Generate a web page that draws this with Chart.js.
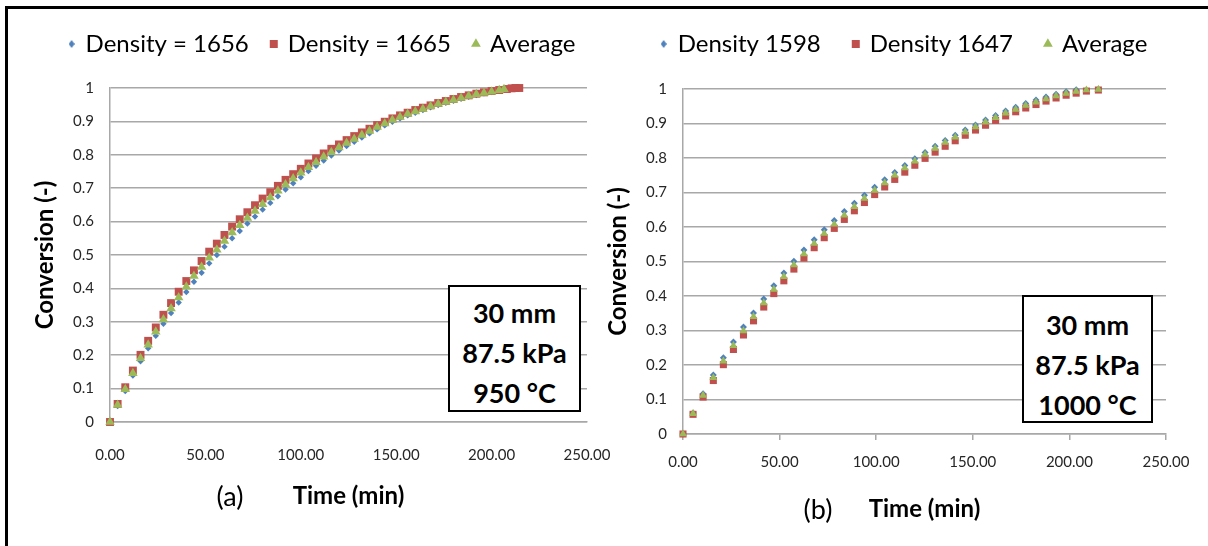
<!DOCTYPE html>
<html>
<head>
<meta charset="utf-8">
<script src="https://cdn.jsdelivr.net/npm/chart.js@4.4.1/dist/chart.umd.min.js"></script>
<style>
  html, body { margin: 0; padding: 0; background: #fff; }
  #page { position: relative; width: 1208px; height: 546px; overflow: hidden; background: #fff; font-family: Lato, sans-serif; color: #000; }
  #frame { position: absolute; left: 5px; top: 6px; width: 1300px; height: 700px; border-top: 3px solid #000; border-left: 3px solid #000; }
  canvas { position: absolute; left: 0; top: 0; }
  .cond { position: absolute; box-sizing: border-box; border: 2px solid #000; background: #fff; text-align: center;
          font-weight: 700; font-size: 27px; line-height: 40px; }
  .tag { position: absolute; font-size: 27px; transform: translate(-50%, -50%); white-space: nowrap; }
</style>
</head>
<body>
<div id="page">
  <div id="frame"></div>
  <canvas id="chartA" width="1208" height="546"></canvas>
  <canvas id="chartB" width="1208" height="546"></canvas>
  <div class="cond" style="left:448px; top:285px; width:133px; height:127px; padding-top:6px;">30 mm<br>87.5 kPa<br>950 °C</div>
  <div class="cond" style="left:1022px; top:295px; width:131px; height:128px; padding-top:8px;">30 mm<br>87.5 kPa<br>1000 °C</div>
  <div class="tag" style="left:230px; top:495px;">(a)</div>
  <div class="tag" style="left:818px; top:508px;">(b)</div>
</div>
<script>
// ---- axis ticks ----
const xTickValues = [0, 50, 100, 150, 200, 250];
const xTickLabels = ['0.00', '50.00', '100.00', '150.00', '200.00', '250.00'];
const yTickValues = [0, 0.1, 0.2, 0.3, 0.4, 0.5, 0.6, 0.7, 0.8, 0.9, 1];
const yTickLabels = ['0', '0.1', '0.2', '0.3', '0.4', '0.5', '0.6', '0.7', '0.8', '0.9', '1'];

// ---- panel (a): 950 °C, time in min ----
const timeA = [0, 4, 8, 12, 16, 20, 24, 28, 32, 36, 40, 44, 48, 52, 56, 60, 64, 68, 72, 76,
               80, 84, 88, 92, 96, 100, 104, 108, 112, 116, 120, 124, 128, 132, 136, 140, 144, 148, 152, 156,
               160, 164, 168, 172, 176, 180, 184, 188, 192, 196, 200, 204];
const tailTime1665 = [208, 210.5, 212.5, 214.5];
const tailTimeAvgA = [206.5];

const conv1656 = [0, 0.048, 0.093, 0.139, 0.182, 0.221, 0.258, 0.294, 0.326, 0.358, 0.389, 0.420, 0.447, 0.475, 0.500, 0.525, 0.550, 0.572, 0.594, 0.615,
                  0.636, 0.656, 0.676, 0.696, 0.715, 0.733, 0.751, 0.767, 0.783, 0.798, 0.813, 0.826, 0.839, 0.852, 0.864, 0.876, 0.888, 0.899, 0.909, 0.918,
                  0.926, 0.934, 0.942, 0.949, 0.956, 0.962, 0.968, 0.974, 0.979, 0.984, 0.988, 0.992];
const conv1665 = [0, 0.054, 0.104, 0.154, 0.201, 0.243, 0.283, 0.321, 0.356, 0.390, 0.422, 0.454, 0.482, 0.510, 0.534, 0.560, 0.585, 0.607, 0.628, 0.649,
                  0.669, 0.688, 0.707, 0.725, 0.742, 0.758, 0.774, 0.789, 0.804, 0.818, 0.831, 0.844, 0.856, 0.867, 0.878, 0.889, 0.899, 0.909, 0.918, 0.926,
                  0.934, 0.941, 0.948, 0.955, 0.961, 0.967, 0.973, 0.978, 0.983, 0.987, 0.991, 0.994,
                  0.997, 0.999, 1.000, 1.000];
const convAvgA = [0, 0.051, 0.098, 0.146, 0.191, 0.231, 0.270, 0.307, 0.340, 0.373, 0.405, 0.437, 0.464, 0.492, 0.516, 0.542, 0.567, 0.589, 0.611, 0.632,
                  0.652, 0.672, 0.692, 0.711, 0.729, 0.746, 0.763, 0.778, 0.794, 0.808, 0.822, 0.835, 0.847, 0.859, 0.871, 0.883, 0.894, 0.904, 0.913, 0.922,
                  0.930, 0.937, 0.945, 0.952, 0.958, 0.964, 0.970, 0.976, 0.981, 0.985, 0.989, 0.993,
                  0.996];

// ---- panel (b): 1000 °C, time in min ----
const timeB = [0, 5.2, 10.4, 15.7, 20.9, 26.1, 31.3, 36.5, 41.8, 47.0, 52.2, 57.4, 62.6, 67.9, 73.1, 78.3, 83.5, 88.7, 93.9, 99.2,
               104.4, 109.6, 114.8, 120.0, 125.3, 130.5, 135.7, 140.9, 146.1, 151.4, 156.6, 161.8, 167.0, 172.2, 177.4, 182.7, 187.9, 193.1, 198.3, 203.5];
const tailTimeB = [208.8, 215.0];

const conv1598 = [0, 0.061, 0.117, 0.171, 0.221, 0.267, 0.310, 0.351, 0.391, 0.430, 0.467, 0.501, 0.533, 0.563, 0.592, 0.619, 0.645, 0.669, 0.692, 0.715,
                  0.737, 0.758, 0.778, 0.798, 0.816, 0.834, 0.851, 0.866, 0.881, 0.896, 0.910, 0.923, 0.936, 0.947, 0.958, 0.968, 0.977, 0.985, 0.992, 0.998];
const conv1647 = [0, 0.057, 0.107, 0.155, 0.201, 0.245, 0.287, 0.328, 0.368, 0.407, 0.444, 0.478, 0.510, 0.540, 0.569, 0.596, 0.622, 0.647, 0.671, 0.694,
                  0.716, 0.738, 0.759, 0.779, 0.799, 0.817, 0.834, 0.850, 0.866, 0.881, 0.895, 0.909, 0.922, 0.934, 0.945, 0.955, 0.965, 0.974, 0.982, 0.988,
                  0.994, 0.997];
const convAvgB = [0, 0.059, 0.112, 0.163, 0.211, 0.256, 0.299, 0.340, 0.380, 0.419, 0.456, 0.490, 0.522, 0.552, 0.581, 0.608, 0.634, 0.659, 0.683, 0.706,
                  0.728, 0.750, 0.771, 0.791, 0.810, 0.828, 0.845, 0.860, 0.875, 0.890, 0.904, 0.917, 0.930, 0.941, 0.952, 0.962, 0.971, 0.980, 0.987, 0.993,
                  0.997, 0.999];

const BLUE = '#4F81BD', RED = '#C0504D', GREEN = '#9BBB59';
const GRID = '#a8a8a8';
const FONT = 'Lato';

function pairs(t, v) { return v.map((y, i) => ({ x: t[i], y: y })); }

// small diamond used as the first legend marker
function diamondIcon(w, h, color) {
  const c = document.createElement('canvas');
  c.width = w; c.height = h;
  const g = c.getContext('2d');
  g.fillStyle = color;
  g.beginPath();
  g.moveTo(w / 2, 0); g.lineTo(w, h / 2); g.lineTo(w / 2, h); g.lineTo(0, h / 2);
  g.closePath(); g.fill();
  return c;
}

// moves the legend block after layout so it sits where the panel wants it
const legendPlace = {
  id: 'legendPlace',
  afterLayout(chart, args, opts) {
    const lg = chart.legend;
    if (!lg) return;
    lg.left += opts.dx; lg.right += opts.dx;
    lg.top += opts.dy; lg.bottom += opts.dy;
  }
};

function makePanel(p) {
  const datasets = p.series.map((s, i) => ({
    label: p.names[i],
    data: s,
    order: 2 - i,
    clip: false,
    pointStyle: ['rectRot', 'rect', 'triangle'][i],
    pointRadius: p.sizes[i],
    pointHoverRadius: p.sizes[i],
    pointBorderWidth: 0,
    borderWidth: 0,
    backgroundColor: [BLUE, RED, GREEN][i],
    borderColor: [BLUE, RED, GREEN][i],
    showLine: false
  }));
  return new Chart(document.getElementById(p.id), {
    type: 'scatter',
    data: { datasets },
    plugins: [legendPlace],
    options: {
      responsive: false,
      devicePixelRatio: 1,
      animation: false,
      events: [],
      layout: { padding: p.pad },
      plugins: {
        tooltip: { enabled: false },
        legendPlace: p.legendShift,
        legend: {
          display: true,
          position: 'top',
          labels: {
            usePointStyle: true,
            boxWidth: 4,
            boxHeight: 8,
            padding: p.legendGap,
            color: '#000',
            font: { family: FONT, size: 24 },
            generateLabels(chart) {
              const items = Chart.defaults.plugins.legend.labels.generateLabels(chart);
              items.sort((a, b) => a.datasetIndex - b.datasetIndex);
              items[0].pointStyle = diamondIcon(6, 8, BLUE);
              return items;
            }
          }
        }
      },
      scales: {
        x: {
          type: 'linear',
          min: 0, max: 250,
          afterBuildTicks(s) { s.ticks = xTickValues.map(v => ({ value: v })); },
          afterFit(s) { s.height = p.xH; },
          ticks: {
            callback: (v, i) => xTickLabels[i],
            color: '#262626',
            font: { family: FONT, size: 15 },
            padding: p.xTickPad,
            maxRotation: 0,
            autoSkip: false
          },
          grid: { display: p.xTickMarks, drawOnChartArea: false, drawTicks: true, tickLength: 6, color: GRID, lineWidth: 1.5 },
          border: { display: true, color: GRID, width: 1.5 },
          title: { display: true, text: 'Time (min)', color: '#000', padding: 0,
                   font: { family: FONT, size: 24, weight: 'bold' } }
        },
        y: {
          type: 'linear',
          min: 0, max: 1,
          afterBuildTicks(s) { s.ticks = yTickValues.map(v => ({ value: v })); },
          afterFit(s) { s.width = p.yW; },
          ticks: {
            callback: (v, i) => yTickLabels[i],
            color: '#262626',
            font: { family: FONT, size: 15 },
            padding: 16
          },
          grid: { color: GRID, lineWidth: 1.5, drawTicks: false },
          border: { display: true, color: GRID, width: 1.5 },
          title: { display: true, text: 'Conversion (-)', color: '#000', padding: 0,
                   font: { family: FONT, size: 24, weight: 'bold' } }
        }
      }
    }
  });
}

makePanel({
  id: 'chartA',
  names: ['Density = 1656', 'Density = 1665', 'Average'],
  series: [pairs(timeA, conv1656), pairs(timeA.concat(tailTime1665), conv1665), pairs(timeA.concat(tailTimeAvgA), convAvgA)],
  sizes: [3.2, 5.6, 5.5],
  pad: { left: 31, right: 621, top: 31, bottom: 35 },
  yW: 79, xH: 89, xTickPad: 18, xTickMarks: false,
  legendGap: 23,
  legendShift: { dx: 13.5, dy: -22 }
});

makePanel({
  id: 'chartB',
  names: ['Density 1598', 'Density 1647', 'Average'],
  series: [pairs(timeB, conv1598), pairs(timeB.concat(tailTimeB), conv1647), pairs(timeB.concat(tailTimeB), convAvgB)],
  sizes: [3.5, 5, 4.6],
  pad: { left: 604, right: 42, top: 22, bottom: 22 },
  yW: 79, xH: 90, xTickPad: 13, xTickMarks: true,
  legendGap: 33,
  legendShift: { dx: 19.5, dy: -23 }
});
</script>
</body>
</html>
